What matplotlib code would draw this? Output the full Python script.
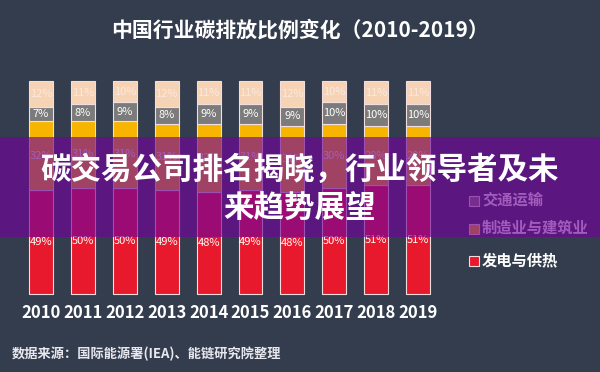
import matplotlib
matplotlib.use('Agg')
import matplotlib.pyplot as plt
from matplotlib.patches import Rectangle

plt.rcParams['font.family'] = ['Noto Sans CJK SC', 'DejaVu Sans']

years = ['2010', '2011', '2012', '2013', '2014', '2015', '2016', '2017', '2018', '2019']
power = [49, 50, 50, 49, 48, 49, 48, 50, 51, 51]          # 发电与供热
industry = [32, 31, 31, 31, 32, 31, 31, 30, 28, 28]       # 制造业与建筑业
transport = [7, 8, 9, 8, 9, 9, 9, 10, 10, 10]             # 交通运输
other = [12, 11, 10, 12, 11, 11, 12, 10, 11, 11]          # 其他

legend_labels = ['交通运输', '制造业与建筑业', '发电与供热']

bg = '#333d4d'
c_power = '#e8192c'
c_industry = '#f7b500'
c_transport = '#7b7b7b'
c_other = '#f6d3b5'

fig = plt.figure(figsize=(6, 3.72), dpi=100, facecolor=bg)
ax = fig.add_axes([0, 0, 1, 1])
ax.set_facecolor(bg)
ax.set_xlim(-41 / 41.9, (600 - 41) / 41.9)
ax.set_ylim(-78 / 2.13, (372 - 78) / 2.13)
ax.axis('off')

x = list(range(len(years)))
w = 0.57
series = [(power, c_power), (industry, c_industry), (transport, c_transport), (other, c_other)]
bottom = [0] * len(years)
for vals, col in series:
    ax.bar(x, vals, w, bottom=bottom, color=col, edgecolor='#f2dede', linewidth=0.8, zorder=2)
    for i, v in enumerate(vals):
        tc = '#fbe9e0' if col == c_other else 'white'
        ax.text(x[i], bottom[i] + v / 2, f'{v}%', ha='center', va='center',
                color=tc, fontsize=8, zorder=3)
    bottom = [b + v for b, v in zip(bottom, vals)]

for i, yr in enumerate(years):
    ax.text(x[i], -8.9, yr, ha='center', va='center', color='white',
            fontsize=12, fontweight='bold')

# legend
leg_cols = [c_transport, c_industry, c_power]
leg_y = [200, 228, 260]
for lab, col, py in zip(legend_labels, leg_cols, leg_y):
    fy = 1 - py / 372
    fig.patches.append(Rectangle((469 / 600, fy - 0.016), 0.017, 0.027,
                                 transform=fig.transFigure, facecolor=col,
                                 edgecolor='#f2dede', linewidth=0.8, zorder=2))
    fig.text(482 / 600, fy, lab, ha='left', va='center', color='white',
             fontsize=11, fontweight='bold', zorder=2)

fig.text(0.5, 1 - 30 / 372, '中国行业碳排放比例变化（2010-2019）', ha='center', va='center',
         color='white', fontsize=15, fontweight='bold')

fig.text(12 / 600, 1 - 354 / 372, '数据来源：国际能源署(IEA)、能链研究院整理', ha='left', va='center',
         color='#e8e8ee', fontsize=9.5, fontweight='bold', style='italic')

# banner overlay
fig.patches.append(Rectangle((0, 1 - 237 / 372), 1, 100 / 372, transform=fig.transFigure,
                             facecolor='#72049b', alpha=0.65, edgecolor='none', zorder=5))
fig.text(0.5, 1 - 170 / 372, '碳交易公司排名揭晓，行业领导者及未', ha='center', va='center',
         color='white', fontsize=22, fontweight='bold', zorder=6)
fig.text(0.5, 1 - 208 / 372, '来趋势展望', ha='center', va='center',
         color='white', fontsize=22, fontweight='bold', zorder=6)

fig.savefig('out.png', dpi=100, facecolor=bg)
